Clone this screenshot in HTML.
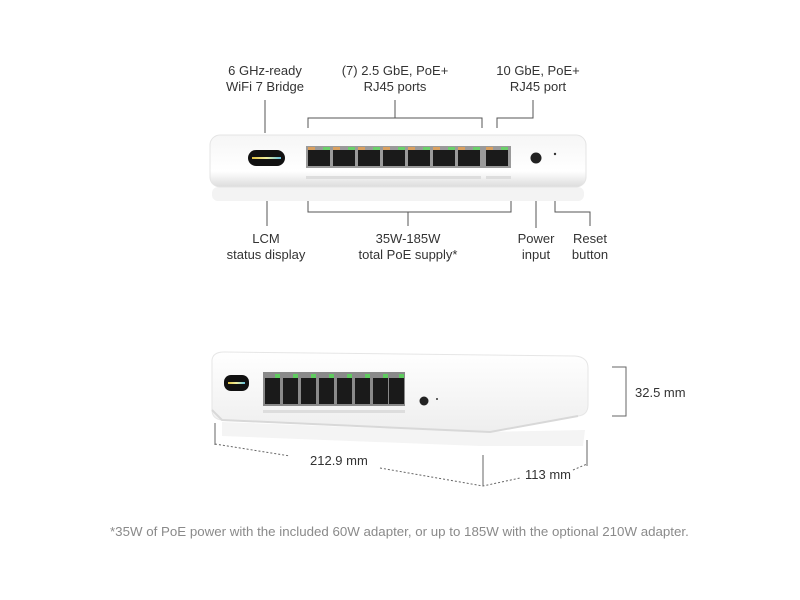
<!DOCTYPE html>
<html><head><meta charset="utf-8"><style>
html,body{margin:0;padding:0;background:#fff;}
svg{display:block;}
text{font-family:"Liberation Sans",sans-serif;font-size:13px;fill:#333;}
</style></head><body>
<svg width="800" height="600" viewBox="0 0 800 600" xmlns="http://www.w3.org/2000/svg">
<defs>
<linearGradient id="g1" x1="0" y1="0" x2="0" y2="1">
<stop offset="0" stop-color="#f6f6f6"/><stop offset="0.7" stop-color="#ffffff"/><stop offset="1" stop-color="#dcdcdc"/>
</linearGradient>
<linearGradient id="g2" x1="0" y1="0" x2="0" y2="1">
<stop offset="0" stop-color="#ffffff"/><stop offset="1" stop-color="#eeeeee"/>
</linearGradient>
<linearGradient id="lcm" x1="0" y1="0" x2="1" y2="0">
<stop offset="0" stop-color="#e0c040"/><stop offset="0.5" stop-color="#f0f0a0"/><stop offset="1" stop-color="#60c0e0"/>
</linearGradient>
</defs>
<g text-anchor="middle">
<text x="265" y="75">6 GHz-ready</text><text x="265" y="91">WiFi 7 Bridge</text>
<text x="395" y="75">(7) 2.5 GbE, PoE+</text><text x="395" y="91">RJ45 ports</text>
<text x="538" y="75">10 GbE, PoE+</text><text x="538" y="91">RJ45 port</text>
<text x="266" y="243">LCM</text><text x="266" y="259">status display</text>
<text x="408" y="243">35W-185W</text><text x="408" y="259">total PoE supply*</text>
<text x="536" y="243">Power</text><text x="536" y="259">input</text>
<text x="590" y="243">Reset</text><text x="590" y="259">button</text>
</g>
<g stroke="#555" stroke-width="1" fill="none">
<path d="M265 100V133"/>
<path d="M395 100V118M308 128V118H482V128"/>
<path d="M533 100V118H497V128"/>
<path d="M267 172V226"/>
<path d="M308 200V212H511V200M408 212V226"/>
<path d="M536 165V228"/>
<path d="M555 162V212H590V226"/>
</g>
<rect x="212" y="187" width="372" height="14" rx="6" fill="#f3f3f3"/>
<rect x="210" y="135" width="376" height="52" rx="10" fill="url(#g1)" stroke="#e4e4e4"/>
<rect x="248" y="150" width="37" height="16" rx="8" fill="#111"/>
<rect x="252" y="157" width="29" height="2" fill="url(#lcm)"/>
<g>
<rect x="306" y="146" width="205" height="22" fill="#9a9a9a"/>
<g fill="#1a1a1a">
<rect x="308" y="150" width="22" height="16"/><rect x="333" y="150" width="22" height="16"/>
<rect x="358" y="150" width="22" height="16"/><rect x="383" y="150" width="22" height="16"/>
<rect x="408" y="150" width="22" height="16"/><rect x="433" y="150" width="22" height="16"/>
<rect x="458" y="150" width="22" height="16"/><rect x="486" y="150" width="22" height="16"/>
</g>
<g fill="#6bd06b">
<rect x="323" y="147" width="7" height="3"/><rect x="348" y="147" width="7" height="3"/><rect x="373" y="147" width="7" height="3"/><rect x="398" y="147" width="7" height="3"/><rect x="423" y="147" width="7" height="3"/><rect x="448" y="147" width="7" height="3"/><rect x="473" y="147" width="7" height="3"/><rect x="501" y="147" width="7" height="3"/>
</g>
<g fill="#d9a060">
<rect x="308" y="147" width="7" height="3"/><rect x="333" y="147" width="7" height="3"/><rect x="358" y="147" width="7" height="3"/><rect x="383" y="147" width="7" height="3"/><rect x="408" y="147" width="7" height="3"/><rect x="433" y="147" width="7" height="3"/><rect x="458" y="147" width="7" height="3"/><rect x="486" y="147" width="7" height="3"/>
</g>
<rect x="306" y="176" width="175" height="3" fill="#ddd"/><rect x="486" y="176" width="25" height="3" fill="#ddd"/>
</g>
<circle cx="536" cy="158" r="5.5" fill="#222"/>
<circle cx="555" cy="154" r="1.2" fill="#333"/>
<path d="M222 422 L480 432 L585 430 L583 446 L480 446 L222 436Z" fill="#f4f4f4"/>
<path d="M212 360 Q213 352 224 352 L575 356 Q588 357 588 368 L588 405 Q588 415 578 416 L490 432 L222 420 Q212 419 212 410Z" fill="url(#g2)" stroke="#e6e6e6"/>
<path d="M212 410 L222 420 L490 432 L578 416" fill="none" stroke="#d8d8d8" stroke-width="2"/>
<rect x="224" y="375" width="25" height="16" rx="7" fill="#111"/>
<rect x="228" y="382" width="17" height="2" fill="url(#lcm)"/>
<rect x="263" y="372" width="142" height="34" fill="#8a8a8a"/>
<g fill="#1a1a1a">
<rect x="265" y="378" width="15" height="26"/><rect x="283" y="378" width="15" height="26"/><rect x="301" y="378" width="15" height="26"/><rect x="319" y="378" width="15" height="26"/><rect x="337" y="378" width="15" height="26"/><rect x="355" y="378" width="15" height="26"/><rect x="373" y="378" width="15" height="26"/><rect x="389" y="378" width="15" height="26"/>
</g>
<g fill="#5fcc5f">
<rect x="275" y="374" width="5" height="4"/><rect x="293" y="374" width="5" height="4"/><rect x="311" y="374" width="5" height="4"/><rect x="329" y="374" width="5" height="4"/><rect x="347" y="374" width="5" height="4"/><rect x="365" y="374" width="5" height="4"/><rect x="383" y="374" width="5" height="4"/><rect x="399" y="374" width="5" height="4"/>
</g>
<rect x="263" y="410" width="142" height="3" fill="#ddd"/>
<circle cx="424" cy="401" r="4.5" fill="#222"/>
<circle cx="437" cy="399" r="1" fill="#333"/>
<g stroke="#666" stroke-width="1" fill="none">
<path d="M612 367H626V416H612"/>
<path d="M215 423V445M483 455V486M587 440V466"/>
<path d="M215 444L290 456M380 468L483 486L520 478M573 470L587 464" stroke-dasharray="2 2"/>
</g>
<text x="635" y="397">32.5 mm</text>
<text x="310" y="465">212.9 mm</text>
<text x="525" y="479">113 mm</text>
<text x="110" y="536" style="fill:#8a8a8a;font-size:13.3px">*35W of PoE power with the included 60W adapter, or up to 185W with the optional 210W adapter.</text>
</svg>
</body></html>
